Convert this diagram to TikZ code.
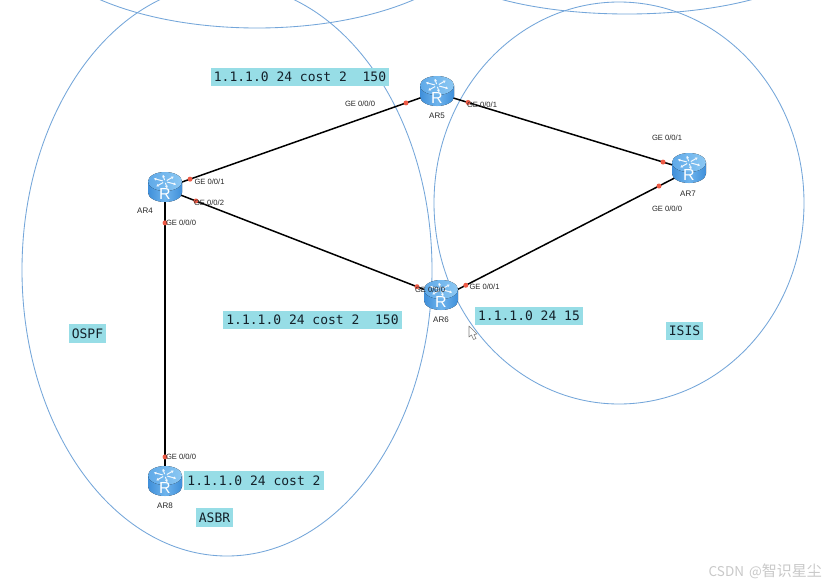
\documentclass[tikz,border=0pt]{standalone}
\usepackage{fontspec}
\setsansfont{Liberation Sans}
\setmonofont{DejaVu Sans Mono}
\newfontfamily\cjkfont{Noto Sans CJK SC}
\usetikzlibrary{arrows.meta,positioning}
\definecolor{ink}{HTML}{14212A}
\definecolor{muted}{HTML}{262626}
\definecolor{zone}{HTML}{74A6DA}
\definecolor{tagbg}{HTML}{97DDE6}
\definecolor{port}{HTML}{EE5A45}
\definecolor{mark}{HTML}{C9C9C9}
\definecolor{bodyl}{HTML}{3F8FDA}
\definecolor{bodyr}{HTML}{3F8FDA}
\definecolor{bodym}{HTML}{6FB4EC}
\definecolor{topl}{HTML}{5FA9E8}
\definecolor{topr}{HTML}{8CC8F3}

\begin{document}
\begin{tikzpicture}[
  x=1pt,y=-1pt,font=\sffamily,
  zoneline/.style={draw=zone,line width=.85pt},
  tag/.style={fill=tagbg,text=ink,inner xsep=3pt,inner ysep=0pt,minimum height=18.5pt,
              font=\ttfamily\fontsize{13}{15}\selectfont},
  portlabel/.style={text=muted,inner sep=0pt,font=\sffamily\fontsize{7.6}{9}\selectfont},
  routername/.style={text=muted,inner sep=0pt,font=\sffamily\fontsize{8}{9}\selectfont},
  routerspot/.style={inner sep=0pt,minimum width=34pt,minimum height=30pt},
  link/.style={black,line width=1.5pt},
  portdot/.style={circle,fill=port,inner sep=0pt,minimum size=5pt},
  routericon/.pic={
    % Cylinder body, then the lid with its arrows and the letter.
    \fill[left color=bodyl,right color=bodyr,middle color=bodym]
      (-17,-5.5) -- (-17,5.5) arc[start angle=180,end angle=360,x radius=17,y radius=-9.5]
      -- (17,-5.5) -- cycle;
    \fill[left color=topl,right color=topr] (0,-5.5) ellipse (17 and 9.5);
    \foreach \a in {25,80,135,205,260,315} {
      \draw[white!92!topl,line width=1pt,-{Latex[length=2.6pt,width=3pt]},shift={(0,-5.5)}]
        ({2.5*cos(\a)},{1.4*sin(\a)}) -- ({12.5*cos(\a)},{7*sin(\a)});
    }
    \node[white,inner sep=0pt,font=\sffamily\fontsize{16}{16}\selectfont] (letter) at (0,7.2) {R};
  }
]
\clip (0,0) rectangle (835,587);
\fill[white] (0,0) rectangle (835,587);

% Routing areas.
\draw[zoneline] (257,-72) ellipse (225 and 100);
\draw[zoneline] (627,-46) ellipse (192 and 60);
\draw[zoneline] (227,270) ellipse (205 and 286);
\draw[zoneline] (619,203) ellipse (185 and 201);

% Routers, placed first so that the links can use their names.
\node[routerspot] (ar4) at (165,187) {};
\node[routerspot] (ar5) at (437,91) {};
\node[routerspot] (ar6) at (441,295) {};
\node[routerspot] (ar7) at (689,168) {};
\node[routerspot] (ar8) at (165,481) {};

\draw[link] ([yshift=-1pt]ar4.center) -- node[pos=.092,portdot] (d45) {} node[pos=.886,portdot] (d54) {} ([yshift=-1pt]ar5.center);
\draw[link] ([yshift=-2pt]ar4.center) -- node[pos=.112,portdot] (d46) {} node[pos=.913,portdot] (d64) {} ([yshift=-1pt]ar6.center);
\draw[link] ([yshift=-2pt]ar5.center) -- node[pos=.123,portdot] (d57) {} node[pos=.897,portdot] (d75) {} ([yshift=-2pt]ar7.center);
\draw[link] ([yshift=-3pt]ar6.center) -- node[pos=.10,portdot] (d67) {} node[pos=.879,portdot] (d76) {} ([yshift=-2.6pt]ar7.center);
\draw[link] (ar4.center) -- node[pos=.122,portdot] (d48) {} node[pos=.918,portdot] (d84) {} (ar8.center);

\foreach \r in {ar4,ar5,ar6,ar7,ar8} {
  \pic at (\r) {routericon};
}

\node[routername] (name4) at (145,211) {AR4};
\node[routername] (name5) at (437,116) {AR5};
\node[routername] (name6) at (441,320) {AR6};
\node[routername] (name7) at (688,194) {AR7};
\node[routername] (name8) at (165,506) {AR8};

% Interface names.
\node[portlabel] (p54) at (360,104) {GE 0/0/0};
\node[portlabel] (p45) at (209.5,182) {GE 0/0/1};
\node[portlabel] (p46) at (209,203) {GE 0/0/2};
\node[portlabel] (p48) at (181,223) {GE 0/0/0};
\node[portlabel] (p57) at (482,105) {GE 0/0/1};
\node[portlabel] (p75) at (667,138) {GE 0/0/1};
\node[portlabel] (p76) at (667,209) {GE 0/0/0};
\node[portlabel] (p64) at (430,290) {GE 0/0/0};
\node[portlabel] (p67) at (484.5,287) {GE 0/0/1};
\node[portlabel] (p84) at (181,457) {GE 0/0/0};

% Route notes.
\node[tag] (route5) at (300,77) {1.1.1.0 24 cost 2\ \ 150};
\node[tag] (route6) at (312.5,320) {1.1.1.0 24 cost 2\ \ 150};
\node[tag] (route67) at (529,316) {1.1.1.0 24 15};
\node[tag] (route8) at (254,480.5) {1.1.1.0 24 cost 2};
\node[tag] (asbr) at (214.5,517.5) {ASBR};
\node[tag] (ospf) at (87.5,333.5) {OSPF};
\node[tag] (isis) at (684.5,331) {ISIS};

% Pointer left on the screen.
\draw[gray,fill=white,line width=.6pt,line join=round]
  (469,326) -- (469,337) -- (471.5,335) -- (473.5,339.5) -- (476,338.5) -- (474,334.5) -- (477,334) -- cycle;

\node[text=mark,inner sep=0pt,anchor=east,font=\cjkfont\fontsize{13.5}{15}\selectfont] (watermark) at (822,571)
  {CSDN\hspace{5pt}@{\fontsize{15}{15}\selectfont 智识星尘}};

\end{tikzpicture}
\end{document}
